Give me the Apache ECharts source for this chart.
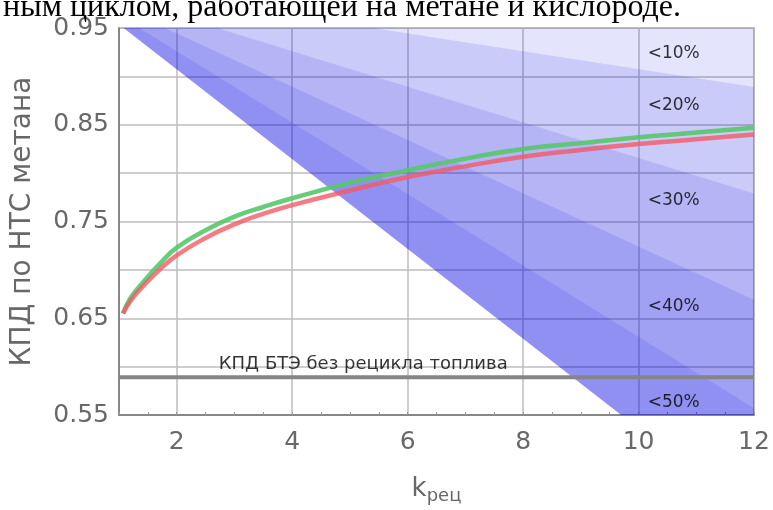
<!DOCTYPE html>
<html>
<head>
<meta charset="utf-8">
<script src="https://cdn.jsdelivr.net/npm/echarts@6/dist/echarts.min.js"></script>
<style>
  html, body { margin: 0; padding: 0; background: #ffffff; }
  #chart { width: 773px; height: 510px; }
</style>
</head>
<body>
<div id="chart"></div>
<script>
// Recirculation ratio samples for the efficiency curves
const kValues = [1.07, 1.2, 1.4, 1.7, 2, 2.5, 3, 3.5, 4, 5, 6, 7, 8, 9, 10, 11, 12];
// Efficiency by methane LHV, two cases
const effGreen = [0.655, 0.671, 0.686, 0.706, 0.723, 0.741, 0.755, 0.765, 0.774, 0.790, 0.803, 0.815, 0.825, 0.831, 0.837, 0.842, 0.847];
const effRed   = [0.655, 0.668, 0.682, 0.700, 0.715, 0.733, 0.747, 0.758, 0.767, 0.782, 0.796, 0.807, 0.817, 0.824, 0.830, 0.835, 0.840];

// Boundaries of the shaded zones, [k, efficiency]
const edgeTop = [[1.08, 0.95], [12, 0.95]];
const edge10 = [[5.4, 0.95], [12, 0.889]];
const edge20 = [[2.7, 0.95], [12, 0.779]];
const edge30 = [[1.8, 0.95], [12, 0.669]];
const edge40 = [[1.35, 0.95], [12, 0.557]];
const edge50 = [[1.08, 0.95], [9.7, 0.55], [12, 0.55]];

// Zone captions and where they sit
const zoneLabels = ['<10%', '<20%', '<30%', '<40%', '<50%'];
const zoneLabelY = [0.9235, 0.870, 0.772, 0.662, 0.563];
const zoneLabelK = 10.15;

// Efficiency of the cell without fuel recycling
const baseEff = 0.589;
const baseLabel = 'КПД БТЭ без рецикла топлива';
const baseLabelPos = [2.72, 0.602];

// Axis ticks
const xTickValues = [2, 4, 6, 8, 10, 12];
const yTickLabels = ['0.55', '0.65', '0.75', '0.85', '0.95'];

const caption = 'ным циклом, работающей на метане и кислороде.';

const chart = echarts.init(document.getElementById('chart'), null, { renderer: 'canvas' });

// Each layer spans from the <50% edge up to one of the upper edges;
// overlapping translucent layers give the darker inner zones.
const zoneUpper = [edgeTop, edge10, edge20, edge30, edge40];

const axisFont = { fontFamily: 'DejaVu Sans', fontSize: 25, color: '#686868' };

chart.setOption({
  animation: false,
  backgroundColor: '#ffffff',
  title: {
    text: caption,
    left: -2, top: -13,
    textStyle: { fontFamily: 'Liberation Serif', fontSize: 32, fontWeight: 'normal', color: '#000000' }
  },
  grid: {
    left: 119, right: 19, top: 28, bottom: 88,
    show: true, borderColor: '#a0a0a0', borderWidth: 1.5, backgroundColor: 'transparent'
  },
  xAxis: [{
    type: 'value', min: 1, max: 12,
    axisLine: { show: true, lineStyle: { color: '#777777', width: 1.5 } },
    axisTick: { show: false, customValues: xTickValues },
    axisLabel: Object.assign({ customValues: xTickValues, margin: 15 }, axisFont),
    splitLine: { show: true, lineStyle: { color: '#bdbdbd', width: 1.5 } },
    name: '{k|k}{s|рец}',
    nameLocation: 'middle', nameGap: 58,
    nameTextStyle: {
      rich: {
        k: { fontFamily: 'DejaVu Sans', fontSize: 26, color: '#686868' },
        s: { fontFamily: 'DejaVu Sans', fontSize: 18, color: '#686868', padding: [14, 0, 0, 0] }
      }
    }
  }, {
    type: 'value', min: 1, max: 12, interval: 0.5, position: 'bottom', offset: 0,
    axisLine: { show: false },
    axisTick: { show: true, inside: true, length: 3, lineStyle: { color: '#999999', width: 1 } },
    axisLabel: { show: false },
    splitLine: { show: false }
  }],
  yAxis: {
    type: 'value', min: 0.55, max: 0.95, interval: 0.05,
    axisLine: { show: true, lineStyle: { color: '#777777', width: 1.5 } },
    axisTick: { show: false },
    axisLabel: Object.assign({
      margin: 10,
      formatter: function (v) {
        const s = v.toFixed(2);
        return yTickLabels.indexOf(s) >= 0 ? s : '';
      }
    }, axisFont),
    splitLine: { show: true, lineStyle: { color: '#bdbdbd', width: 1.5 } },
    name: 'КПД по НТС метана',
    nameLocation: 'middle', nameGap: 82, nameRotate: 90,
    nameTextStyle: { fontFamily: 'DejaVu Sans', fontSize: 28, color: '#686868' }
  },
  series: [
    {
      type: 'line', data: kValues.map((k, i) => [k, effGreen[i]]),
      smooth: true, symbol: 'none', silent: true,
      lineStyle: { color: '#55c86a', width: 4.5, opacity: 0.9 }
    },
    {
      type: 'line', data: kValues.map((k, i) => [k, effRed[i]]),
      smooth: true, symbol: 'none', silent: true,
      lineStyle: { color: '#f25a66', width: 4.5, opacity: 0.8 }
    },
    {
      type: 'custom', silent: true,
      data: zoneUpper.map(e => e[e.length - 1]),
      renderItem: function (params, api) {
        const upper = zoneUpper[params.dataIndex];
        const pts = edge50.concat(upper.slice().reverse()).map(p => api.coord(p));
        return {
          type: 'polygon',
          shape: { points: pts },
          style: { fill: 'rgba(0,0,230,0.105)', stroke: null }
        };
      }
    },
    {
      type: 'line', data: [[1, baseEff], [12, baseEff]], symbol: 'none', silent: true,
      lineStyle: { color: '#858585', width: 4 }
    },
    {
      type: 'scatter', symbolSize: 1, silent: true,
      itemStyle: { color: 'rgba(0,0,0,0)' },
      data: zoneLabels.map((t, i) => ({ name: t, value: [zoneLabelK, zoneLabelY[i]] })),
      label: {
        show: true, position: 'right', distance: 0,
        formatter: p => p.name,
        fontFamily: 'DejaVu Sans', fontSize: 17, color: '#000000'
      }
    },
    {
      type: 'scatter', symbolSize: 1, silent: true,
      itemStyle: { color: 'rgba(0,0,0,0)' },
      data: [{ name: baseLabel, value: baseLabelPos }],
      label: {
        show: true, position: 'right', distance: 0,
        formatter: p => p.name,
        fontFamily: 'DejaVu Sans', fontSize: 18, color: '#000000'
      }
    }
  ]
});
</script>
</body>
</html>
